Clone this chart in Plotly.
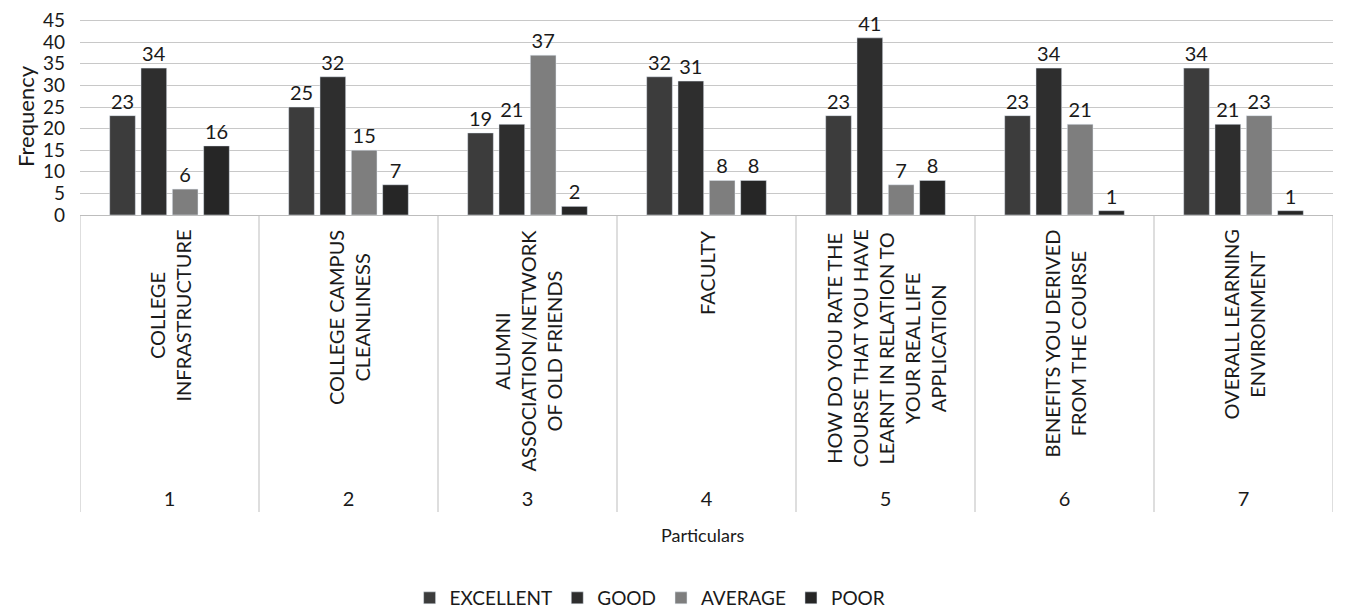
import plotly.graph_objects as go

numbers = ["1", "2", "3", "4", "5", "6", "7"]
categories = [
    "COLLEGE<br>INFRASTRUCTURE",
    "COLLEGE CAMPUS<br>CLEANLINESS",
    "ALUMNI<br>ASSOCIATION/NETWORK<br>OF OLD FRIENDS",
    "FACULTY",
    "HOW DO YOU RATE THE<br>COURSE THAT YOU HAVE<br>LEARNT IN RELATION TO<br>YOUR REAL LIFE<br>APPLICATION",
    "BENEFITS YOU DERIVED<br>FROM THE COURSE",
    "OVERALL LEARNING<br>ENVIRONMENT",
]
excellent = [23, 25, 19, 32, 23, 23, 34]
good = [34, 32, 21, 31, 41, 34, 21]
average = [6, 15, 37, 8, 7, 21, 23]
poor = [16, 7, 2, 8, 8, 1, 1]
y_ticks = [0, 5, 10, 15, 20, 25, 30, 35, 40, 45]

series = [
    ("EXCELLENT", excellent, "#3c3c3c"),
    ("GOOD", good, "#2e2e2e"),
    ("AVERAGE", average, "#7e7e7e"),
    ("POOR", poor, "#262626"),
]

FONT = "Lato, 'Open Sans', sans-serif"
fig = go.Figure()
for name, vals, col in series:
    fig.add_trace(go.Bar(
        x=numbers, y=vals, name=name, marker_color=col,
        text=vals, textposition="outside", cliponaxis=False,
        textfont=dict(size=20, color="#1a1a1a"),
    ))

H = 615
# page is offset by the default 8px body margin
top, bottom = 10, 408
ph = H - top - bottom

def py(pix):
    # page pixel -> paper coordinate
    return -(pix - 215) / ph

shapes = []
for i in range(len(numbers) + 1):
    shapes.append(dict(type="line", xref="x", yref="paper",
                       x0=i - 0.5, x1=i - 0.5, y0=0, y1=py(512),
                       line=dict(color="#bdbdbd", width=1)))

annotations = []
for i, c in enumerate(categories):
    annotations.append(dict(x=i, y=py(228), xref="x", yref="paper",
                            text=c, textangle=-90, showarrow=False,
                            xanchor="center", yanchor="top", align="center",
                            font=dict(size=20, color="#1a1a1a", family=FONT)))
annotations.append(dict(x=0.497, y=py(535), xref="paper", yref="paper",
                        text="Particulars", showarrow=False,
                        xanchor="center", yanchor="middle",
                        font=dict(size=18, color="#1a1a1a", family=FONT)))

fig.update_layout(
    width=1356, height=H,
    margin=dict(l=72, r=31, t=top, b=bottom, autoexpand=False),
    paper_bgcolor="white", plot_bgcolor="white",
    font=dict(family=FONT, color="#1a1a1a"),
    barmode="group", bargap=0.3, bargroupgap=0.18,
    showlegend=True,
    legend=dict(orientation="h", x=0.455, xanchor="center", y=py(598), yanchor="middle",
                font=dict(size=19, color="#1a1a1a"), itemwidth=30,
                traceorder="normal"),
    shapes=shapes, annotations=annotations,
)
fig.update_xaxes(type="category", range=[-0.5, 6.5], showgrid=False, automargin=False,
                 showline=True, linecolor="#bdbdbd", ticks="",
                 tickfont=dict(size=20, color="#1a1a1a"),
                 ticklabelstandoff=266)
fig.update_yaxes(range=[0, 45.6], tickvals=y_ticks,
                 showgrid=True, gridcolor="#c8c8c8", automargin=False,
                 zeroline=False, tickfont=dict(size=19, color="#1a1a1a"),
                 ticklabelstandoff=14, ticklabeloverflow="allow",
                 title=dict(text="Frequency", font=dict(size=22), standoff=2))

fig.write_html("out.html")
